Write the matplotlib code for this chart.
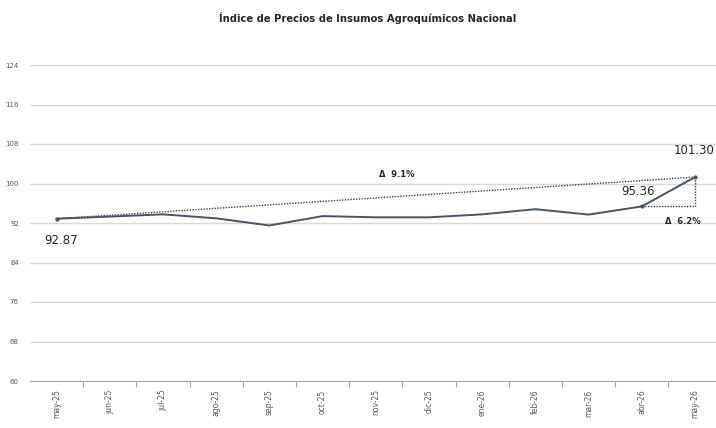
import matplotlib
matplotlib.use('Agg')
import matplotlib.pyplot as plt
from matplotlib.ticker import FixedLocator, NullFormatter

months = ['may-25', 'jun-25', 'jul-25', 'ago-25', 'sep-25', 'oct-25', 'nov-25',
          'dic-25', 'ene-26', 'feb-26', 'mar-26', 'abr-26', 'may-26']
index_values = [92.87, 93.3, 93.75, 92.95, 91.5, 93.4, 93.15,
                93.15, 93.75, 94.8, 93.7, 95.36, 101.30]
y_ticks = [60, 68, 76, 84, 92, 100, 108, 116, 124]
title = 'Índice de Precios de Insumos Agroquímicos Nacional'
change_year = 'Δ  9.1%'
change_month = 'Δ  6.2%'

line_color = '#44546A'
grid_color = '#D9D9D9'
text_color = '#595959'


def plot_index():
    fig = plt.figure(figsize=(7.16, 4.28), dpi=100)
    # plot area spans past the right edge, as in the source (cropped)
    ax = fig.add_axes([30 / 716, 47 / 428, 691.6 / 716, 316 / 428])
    ax.set_facecolor('white')

    x = list(range(len(months)))
    ax.set_xlim(-0.5, len(months) - 0.5)
    ax.set_ylim(y_ticks[0], y_ticks[-1])

    ax.set_yticks(y_ticks)
    ax.set_yticklabels([str(v) for v in y_ticks], fontsize=5, color=text_color)
    ax.grid(axis='y', color=grid_color, linewidth=1)
    ax.set_axisbelow(True)

    # category labels centred, tick marks between categories
    ax.set_xticks(x)
    ax.set_xticklabels(months, rotation=90, fontsize=5.5, color=text_color)
    ax.tick_params(axis='x', length=0, pad=6)
    ax.xaxis.set_minor_locator(FixedLocator([i + 0.5 for i in x[:-1]]))
    ax.xaxis.set_minor_formatter(NullFormatter())
    ax.tick_params(axis='x', which='minor', length=4, color='#A6A6A6', width=0.8)
    ax.tick_params(axis='y', length=0, pad=8)

    for side in ['top', 'right', 'left']:
        ax.spines[side].set_visible(False)
    ax.spines['bottom'].set_color('#A6A6A6')

    # main series
    ax.plot(x, index_values, color=line_color, linewidth=1.4, zorder=3)
    ax.plot([x[0], x[-2], x[-1]], [index_values[0], index_values[-2], index_values[-1]],
            linestyle='none', marker='o', markersize=2, color=line_color, zorder=4)

    # dotted change guides
    ax.plot([x[0], x[-1]], [index_values[0], index_values[-1]], color='#404040',
            linestyle=(0, (1, 1)), linewidth=1.0, zorder=2)
    ax.plot([x[-2], x[-1], x[-1]], [index_values[-2], index_values[-2], index_values[-1]],
            color='#404040', linestyle=(0, (1, 1)), linewidth=1.0, zorder=2)

    # value labels
    ax.annotate(f'{index_values[0]:.2f}', (x[0], index_values[0]), xytext=(3, -16),
                textcoords='offset points', ha='center', va='center', fontsize=8.5,
                color='#262626')
    ax.annotate(f'{index_values[-2]:.2f}', (x[-2], index_values[-2]), xytext=(-3, 11),
                textcoords='offset points', ha='center', va='center', fontsize=8.5,
                color='#262626')
    ax.annotate(f'{index_values[-1]:.2f}', (x[-1], index_values[-1]), xytext=(-1, 19),
                textcoords='offset points', ha='center', va='center', fontsize=8.5,
                color='#262626')

    ax.text(6.4, 101.9, change_year, fontsize=6, fontweight='bold', ha='center',
            va='center', color='#262626')
    ax.text(11.77, 92.3, change_month, fontsize=6, fontweight='bold', ha='center',
            va='center', color='#262626')

    fig.text(368 / 716, 1 - 18 / 428, title, ha='center', va='center', fontsize=8,
             fontweight='semibold', fontstretch='condensed', color='#262626',
             family=['DejaVu Sans'])

    fig.savefig('out.png', dpi=100, facecolor='white')


if __name__ == "__main__":
    plot_index()
